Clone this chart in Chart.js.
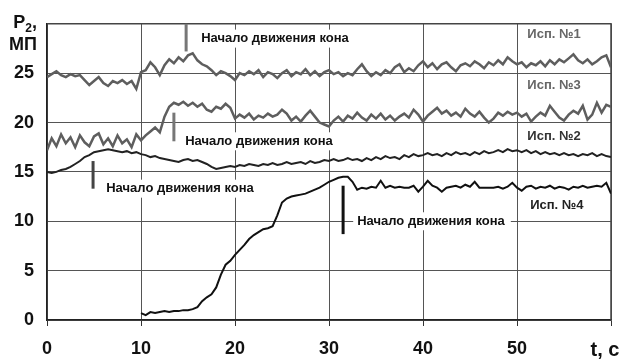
<!DOCTYPE html>
<html>
<head>
<meta charset="utf-8">
<script src="https://cdn.jsdelivr.net/npm/chart.js@4"></script>
</head>
<body style="margin:0">
<canvas id="chart" width="625" height="361"></canvas>
<script>
    // Sampling step of the recorded curves, seconds
    const STEP = 0.5;
    const START_4 = 10; // test No.4 recording begins at t = 10 s

    // Axis ticks
    const X_TICKS = [0, 10, 20, 30, 40, 50, 60];
    const Y_TICKS = [0, 5, 10, 15, 20, 25, 30];

    // P2, MPa — test No.1 (t = 0..60)
    const SERIES_1 = [
        24.6, 24.9, 25.2, 24.8, 24.6, 24.9, 24.7, 24.8, 24.3, 23.8, 24.2, 24.6, 24.0, 23.7, 24.2, 24.0, 24.3, 23.9, 24.2, 23.4, 25.1,
        25.3, 26.1, 25.6, 24.8, 25.8, 26.4, 26.0, 26.6, 26.2, 26.8, 27.0, 26.3, 25.9, 25.7, 25.3, 24.8, 25.2, 25.0, 24.7, 24.3,
        25.0, 24.8, 25.2, 24.9, 25.3, 24.6, 25.1, 24.9, 24.5, 25.0, 25.3, 24.7, 25.1, 24.9, 25.4, 24.8, 25.2, 24.7, 25.1, 25.3,
        24.9, 25.1, 24.7, 25.0, 24.8, 25.4, 25.9, 25.2, 24.7, 25.1, 24.8, 25.3, 25.0, 25.6, 25.9, 25.1, 25.5, 25.2, 25.8, 26.2,
        25.6, 26.0, 25.4, 25.9, 26.1, 25.6, 25.2, 25.8, 26.0, 25.7, 26.2, 25.9, 25.5, 26.1, 25.8, 26.3, 25.9, 26.6, 26.2, 25.9,
        26.1, 25.6, 26.0, 25.8, 26.2, 25.7, 26.3, 25.9, 26.4, 26.1, 26.5, 26.9, 26.3, 26.0, 26.4, 25.9, 26.2, 26.6, 26.8, 25.6
    ];

    // test No.3 (t = 0..60)
    const SERIES_3 = [
        17.2, 18.4, 17.6, 18.8, 17.9, 18.5, 17.5, 18.7, 18.0, 17.6, 18.6, 18.9, 17.8, 18.4, 17.6, 18.7, 17.9, 18.3, 17.5, 18.8, 18.2,
        18.7, 19.1, 19.5, 19.0, 20.6, 21.6, 22.0, 21.8, 22.1, 21.7, 22.0, 21.6, 21.9, 21.3, 21.1, 21.6, 21.4, 21.9, 21.5, 20.4,
        20.8, 20.5, 20.9, 20.3, 20.7, 20.5, 20.9, 20.6, 20.8, 21.3, 20.9, 20.2, 20.6, 20.1, 20.7, 21.2, 20.6, 20.0, 19.8, 19.6,
        20.2, 20.6, 20.1, 20.7, 20.4, 21.0, 20.5, 20.2, 20.8, 20.4, 20.9, 20.3, 20.7, 20.2, 20.6, 20.9, 20.5, 21.3, 20.8, 20.1,
        20.7, 21.1, 21.5, 20.9, 21.2, 20.7, 21.0, 20.6, 21.4, 20.9, 20.6, 21.1, 20.5, 20.0, 20.4, 21.0, 20.7, 21.1, 20.8, 21.0,
        20.6, 20.9, 20.1, 20.6, 21.0, 20.7, 21.7, 21.1, 20.5, 20.2, 20.8, 21.2, 20.9, 21.7, 20.3, 20.8, 22.0, 21.0, 21.8, 21.6
    ];

    // test No.2 (t = 0..60)
    const SERIES_2 = [
        15.0, 14.9, 15.0, 15.2, 15.3, 15.5, 15.8, 16.1, 16.5, 16.7, 17.0, 17.1, 17.2, 17.3, 17.2, 17.1, 17.0, 17.1, 16.9, 17.0, 16.8,
        16.7, 16.5, 16.6, 16.4, 16.3, 16.2, 16.1, 16.0, 16.2, 16.3, 16.1, 16.2, 16.0, 15.8, 15.5, 15.3, 15.4, 15.5, 15.6, 15.5,
        15.7, 15.6, 15.8, 15.7, 15.6, 15.8, 15.7, 15.9, 15.7, 15.8, 16.0, 15.8, 15.9, 16.0, 15.8, 16.1, 15.9, 16.0, 16.2, 16.1,
        16.3, 16.1, 16.2, 16.4, 16.2, 16.3, 16.1, 16.4, 16.2, 16.5, 16.3, 16.6, 16.4, 16.5, 16.3, 16.7, 16.5, 16.8, 16.6, 16.7,
        16.9, 16.7, 16.8, 16.6, 16.9, 16.7, 17.0, 16.8, 16.9, 16.7, 17.0, 16.8, 17.1, 16.9, 17.0, 17.2, 17.0, 17.3, 17.1, 17.2,
        17.0, 17.2, 16.9, 17.1, 16.8, 17.0, 16.8, 16.9, 16.7, 16.9, 16.7, 16.8, 16.6, 16.8, 16.7, 16.9, 16.6, 16.8, 16.6, 16.5
    ];

    // test No.4 (t = 10..60)
    const SERIES_4 = [
        0.7, 0.5, 0.8, 0.7, 0.8, 0.9, 0.8, 0.9, 0.9, 1.0, 1.0, 1.1, 1.3, 1.9, 2.3, 2.6, 3.3, 4.6, 5.6, 6.0, 6.6,
        7.1, 7.6, 8.2, 8.6, 8.9, 9.2, 9.3, 9.5, 10.6, 11.9, 12.3, 12.5, 12.6, 12.7, 12.8, 13.0, 13.2, 13.4, 13.7, 14.0,
        14.2, 14.4, 14.5, 14.5, 14.0, 13.2, 13.4, 13.3, 13.5, 13.4, 14.1, 13.4, 13.6, 13.4, 13.5, 13.4, 13.4, 13.6, 13.0, 13.5,
        14.1, 13.6, 13.4, 13.0, 13.4, 13.5, 13.6, 13.4, 13.7, 13.5, 14.0, 13.4, 13.4, 13.4, 13.4, 13.5, 13.3, 13.5, 13.9, 13.4,
        13.1, 13.5, 13.6, 13.3, 13.5, 13.4, 13.6, 13.3, 13.5, 13.4, 13.2, 13.5, 13.4, 13.6, 13.4, 13.5, 13.6, 13.5, 13.9, 12.8
    ];

    // "Начало движения кона" markers: [t, yTop, yBottom, textT, textY, colour]
    const MARKERS = [
        [14.8, 30.0, 27.2, 16.4, 28.5, '#777'],
        [13.5, 21.0, 18.1, 14.7, 18.1, '#777'],
        [4.9, 16.1, 13.3, 6.3, 13.3, '#444'],
        [31.5, 13.6, 8.7, 33.0, 10.0, '#111']
    ];
    const MARKER_TEXT = 'Начало движения кона';

    // Series names placed on the plot: [text, t, y, colour]
    const SERIES_LABELS = [
        ['Исп. №1', 51.1, 28.9, '#666'],
        ['Исп. №3', 51.1, 23.8, '#666'],
        ['Исп. №2', 51.1, 18.6, '#333'],
        ['Исп. №4', 51.4, 11.6, '#222']
    ];

    const X_TITLE = 't, с';
    const FONT = '"Liberation Sans", Arial, sans-serif';

    // Helper: pair values with their time stamps
    function toPoints(values, start) {
        return values.map((v, i) => ({ x: start + i * STEP, y: v }));
    }

    // Helper: draw text on a white box (hides the grid behind it)
    function boxedText(ctx, text, x, y, font, color) {
        ctx.font = font;
        const w = ctx.measureText(text).width;
        ctx.fillStyle = '#fff';
        ctx.fillRect(x - 4, y - 9, w + 10, 18);
        ctx.fillStyle = color;
        ctx.textAlign = 'left';
        ctx.textBaseline = 'middle';
        ctx.fillText(text, x, y);
    }

    // Frame under the curves; labels and captions over them
    const annotations = {
        id: 'annotations',
        beforeDatasetsDraw(chart) {
            const { ctx, chartArea: a } = chart;
            ctx.save();
            ctx.strokeStyle = '#444';
            ctx.lineWidth = 1.5;
            ctx.beginPath();
            ctx.moveTo(a.left, a.top);
            ctx.lineTo(a.right, a.top);
            ctx.lineTo(a.right, a.bottom);
            ctx.stroke();
            ctx.restore();
        },
        afterDatasetsDraw(chart) {
            const { ctx, chartArea: a, scales: { x, y } } = chart;
            ctx.save();

            MARKERS.forEach(m => {
                boxedText(ctx, MARKER_TEXT, x.getPixelForValue(m[3]), y.getPixelForValue(m[4]),
                    'bold 13px ' + FONT, '#111');
            });
            SERIES_LABELS.forEach(s => {
                boxedText(ctx, s[0], x.getPixelForValue(s[1]), y.getPixelForValue(s[2]),
                    'bold 13px ' + FONT, s[3]);
            });

            MARKERS.forEach(m => {
                const px = x.getPixelForValue(m[0]);
                ctx.strokeStyle = m[5];
                ctx.lineWidth = 3;
                ctx.beginPath();
                ctx.moveTo(px, y.getPixelForValue(m[1]));
                ctx.lineTo(px, y.getPixelForValue(m[2]));
                ctx.stroke();
            });

            ctx.fillStyle = '#111';
            ctx.textBaseline = 'alphabetic';
            // x axis title in place of the last tick label
            ctx.textAlign = 'center';
            ctx.font = 'bold 20px ' + FONT;
            ctx.fillText(X_TITLE, a.right - 6, a.bottom + 36);
            // y axis title
            ctx.textAlign = 'right';
            ctx.font = 'bold 18px ' + FONT;
            ctx.fillText('МП', 37, 50);
            const w = ctx.measureText(',').width;
            ctx.fillText(',', 37, 28);
            ctx.font = 'bold 12px ' + FONT;
            const w2 = ctx.measureText('2').width;
            ctx.fillText('2', 37 - w, 32);
            ctx.font = 'bold 18px ' + FONT;
            ctx.fillText('P', 37 - w - w2, 28);
            ctx.restore();
        }
    };

    const line = (data, color, width) => ({
        data,
        borderColor: color,
        borderWidth: width,
        pointRadius: 0,
        tension: 0,
        fill: false
    });

    new Chart(document.getElementById('chart'), {
        type: 'line',
        data: {
            datasets: [
                line(toPoints(SERIES_1, 0), '#5e5e5e', 2.5),
                line(toPoints(SERIES_3, 0), '#5e5e5e', 2.5),
                line(toPoints(SERIES_2, 0), '#222', 2),
                line(toPoints(SERIES_4, START_4), '#111', 2)
            ]
        },
        options: {
            responsive: false,
            animation: false,
            layout: { padding: { top: 17, right: 14, left: 0, bottom: 0 } },
            plugins: {
                legend: { display: false },
                tooltip: { enabled: false }
            },
            scales: {
                x: {
                    type: 'linear',
                    min: X_TICKS[0],
                    max: X_TICKS[X_TICKS.length - 1],
                    afterBuildTicks: s => { s.ticks = X_TICKS.map(v => ({ value: v })); },
                    afterFit: s => { s.height = 41; },
                    grid: { color: '#555', lineWidth: 1, tickLength: 6, tickColor: '#333' },
                    border: { color: '#222', width: 1.5 },
                    ticks: {
                        color: '#111',
                        padding: 12,
                        maxRotation: 0,
                        font: { family: FONT, size: 18, weight: 'bold' },
                        callback: v => (v === 60 ? '' : v)
                    }
                },
                y: {
                    min: Y_TICKS[0],
                    max: Y_TICKS[Y_TICKS.length - 1],
                    afterBuildTicks: s => { s.ticks = Y_TICKS.map(v => ({ value: v })); },
                    afterFit: s => { s.width = 47; },
                    grid: { color: '#555', lineWidth: 1, drawTicks: false },
                    border: { color: '#222', width: 1.5 },
                    ticks: {
                        color: '#111',
                        padding: 13,
                        font: { family: FONT, size: 18, weight: 'bold' },
                        callback: v => (v === 30 ? '' : v)
                    }
                }
            }
        },
        plugins: [annotations]
    });
</script>
</body>
</html>
